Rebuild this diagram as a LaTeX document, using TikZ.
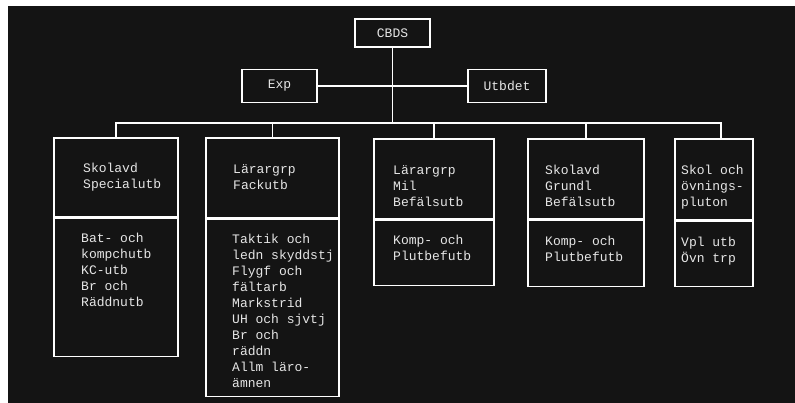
\documentclass[tikz,border=0pt]{standalone}
\usepackage{fontspec}
\setmonofont{Liberation Mono}
\usetikzlibrary{positioning}
\definecolor{board}{HTML}{141414}
\definecolor{chalk}{HTML}{E6E6E6}

\begin{document}
\begin{tikzpicture}[x=1pt, y=-1pt,
	unit/.style={rectangle, draw=white, line width=1.6pt, inner sep=0pt, text=chalk, font=\ttfamily\fontsize{13}{16}\selectfont},
	part/.style={unit, anchor=north west},
	txt/.style={inner sep=0pt, align=left, text=chalk, font=\ttfamily\fontsize{13}{16}\selectfont},
	link/.style={draw=white, line width=1.6pt}]
	% background
	\fill[white] (0,0) rectangle (795,403);
	\fill[board] (8,6) rectangle (795,403);
	\useasboundingbox (0,0) rectangle (795,403);

	% top level
	\node (cbds) [unit, minimum width=75pt, minimum height=28pt] at (392.5,33) {CBDS};
	\node (exp) [unit, minimum width=75pt, minimum height=33pt] at (279.5,86) {Exp};
	\node (utbdet) [unit, minimum width=78pt, minimum height=33pt] at (507,86) {Utbdet};
	\coordinate (bus) at (390,123);

	% units
	\node (spectop) [part, minimum width=124pt, minimum height=79pt] at (53,137) {};
	\node (specbot) [part, minimum width=124pt, minimum height=138pt, below=0pt of spectop] {};
	\node (facktop) [part, minimum width=133pt, minimum height=80pt] at (205,137) {};
	\node (fackbot) [part, minimum width=133pt, minimum height=177pt, below=0pt of facktop] {};
	\node (miltop) [part, minimum width=120pt, minimum height=80pt] at (373,138) {};
	\node (milbot) [part, minimum width=120pt, minimum height=65pt, below=0pt of miltop] {};
	\node (grundtop) [part, minimum width=116pt, minimum height=80pt] at (527,138) {};
	\node (grundbot) [part, minimum width=116pt, minimum height=66pt, below=0pt of grundtop] {};
	\node (ovntop) [part, minimum width=78pt, minimum height=81pt] at (674,138) {};
	\node (ovnbot) [part, minimum width=78pt, minimum height=65pt, below=0pt of ovntop] {};

	% texts
	\node (spectoptxt) [txt, below right=26pt and 30pt of spectop.north west] {Skolavd\\Specialutb};
	\node (specbottxt) [txt, below right=15pt and 28pt of specbot.north west] {Bat- och\\kompchutb\\KC-utb\\Br och\\Räddnutb};
	\node (facktoptxt) [txt, below right=27pt and 28pt of facktop.north west] {Lärargrp\\Fackutb};
	\node (fackbottxt) [txt, below right=15pt and 27pt of fackbot.north west] {Taktik och\\ledn skyddstj\\Flygf och\\fältarb\\Markstrid\\UH och sjvtj\\Br och\\räddn\\Allm läro-\\ämnen};
	\node (miltoptxt) [txt, below right=27pt and 20pt of miltop.north west] {Lärargrp\\Mil\\Befälsutb};
	\node (milbottxt) [txt, below right=15pt and 20pt of milbot.north west] {Komp- och\\Plutbefutb};
	\node (grundtoptxt) [txt, below right=27pt and 18pt of grundtop.north west] {Skolavd\\Grundl\\Befälsutb};
	\node (grundbottxt) [txt, below right=16pt and 18pt of grundbot.north west] {Komp- och\\Plutbefutb};
	\node (ovntoptxt) [txt, below right=27pt and 7pt of ovntop.north west] {Skol och\\övnings-\\pluton};
	\node (ovnbottxt) [txt, below right=16pt and 7pt of ovnbot.north west] {Vpl utb\\Övn trp};

	% connectors
	\coordinate (ovndrop) at ([xshift=7pt]ovntop.north);
	\draw[link] (cbds) -- (cbds.south |- bus);
	\draw[link] (exp) -- (utbdet);
	\draw[link] (spectop.north) |- (bus) -| (ovndrop);
	\foreach \n in {facktop, miltop, grundtop}
		\draw[link] (\n.north) -- (\n.north |- bus);
\end{tikzpicture}
\end{document}
